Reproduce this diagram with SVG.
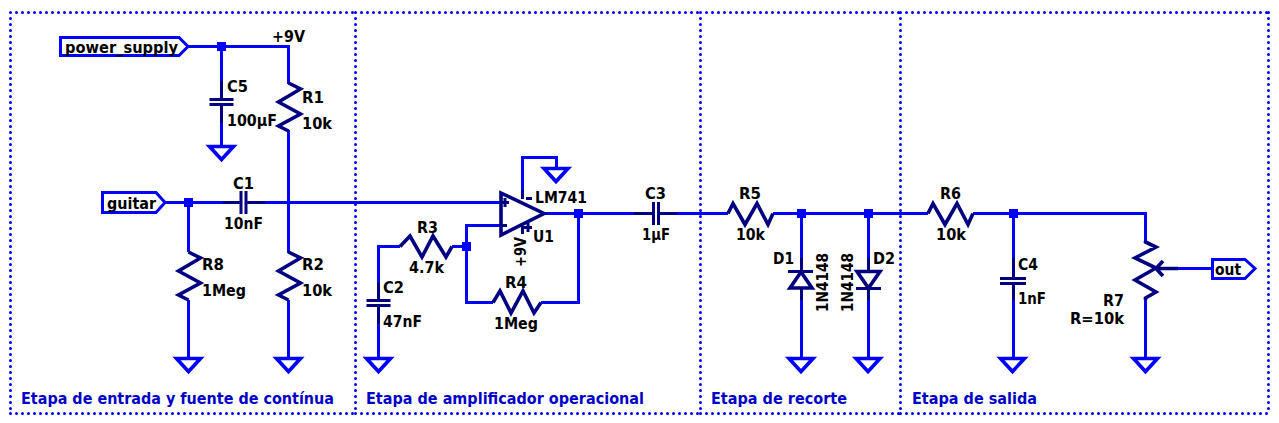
<svg xmlns="http://www.w3.org/2000/svg" width="1279" height="423" viewBox="0 0 1279 423">
<style>
text{font-family:"DejaVu Sans",Verdana,sans-serif;font-weight:bold;font-size:15.5px;fill:#000}
.s{fill:#0000c8}
path{fill:none;stroke-width:3;stroke-linejoin:miter}
.w{stroke:#0000ff}
.d{stroke:#000080}
.z{stroke-width:3.6}
.f{stroke:#0000ff;stroke-width:3;stroke-dasharray:0 6;stroke-linecap:round}
.j{fill:#0000ff;stroke:none}
</style>
<defs>
<path id="gnd" class="w z" d="M-12 0H12L0 13Z"/>
<path id="res" class="d z" d="M0 0L12 6L-10 19L12 31L-10 43L0 48"/>
<path id="resh" class="d z" d="M0 0L5 -10L17 11L29 -10L40 11L45 0"/>
<g id="capv"><path class="d" d="M0 0V18M0 24V42M-12 18.500H12M-12 23.500H12"/></g>
</defs>
<rect width="1279" height="423" fill="#fff"/>
<g id="frames">
<path class="f" d="M10.500 12.500H355M355.500 12.500H700M700.500 12.500H900M900.500 12.500H1268M10.500 413.500H355M355.500 413.500H700M700.500 413.500H900M900.500 413.500H1268M10.500 12.500V414M355.500 12.500V414M700.500 12.500V414M900.500 12.500V414M1268.500 12.500V414"/>
</g>
<g id="connectors">
<path class="w" d="M188 46.500H288.500V84M221.500 46V81M221.500 123V146M288.500 130V253M288.500 300V358"/>
<path class="w" d="M165 202.500H223M265 202.500H500M188.500 202V252M188.500 300V358"/>
<path class="w" d="M522.500 190V157.500H556.500V168"/>
<path class="w" d="M400 246.500H378.500V282M378.500 323V358M452 246.500H466.500M500 225.500H466.500V302.500H493M541 302.500H578.500V213"/>
<path class="w" d="M544 213.500H634M677 213.500H728M773 213.500H928M973 213.500H1145.500V241M801.500 213V258M801.500 300V358M868.500 213V258M868.500 300V358M1013.500 213V258M1013.500 300V358M1145.500 300V358M1178 268.500H1212"/>
</g>
<g id="power_supply"><path class="w" d="M60.500 37.500H179L188 46.500L179 55.500H60.500Z"/><text x="65" y="53" textLength="113" lengthAdjust="spacingAndGlyphs">power_supply</text></g>
<g id="guitar"><path class="w" d="M102.500 192.500H156L165 202.500L156 212.500H102.500Z"/><text x="107" y="209" textLength="49" lengthAdjust="spacingAndGlyphs">guitar</text></g>
<g id="out"><path class="w" d="M1212.500 259.500H1245L1255 268.500L1245 278.500H1212.500Z"/><text x="1215" y="275" textLength="26" lengthAdjust="spacingAndGlyphs">out</text></g>
<g id="net_9V"><text x="272" y="42" textLength="33" lengthAdjust="spacingAndGlyphs">+9V</text></g>
<g id="junctions">
<rect class="j" x="217" y="42" width="9" height="9"/><rect class="j" x="184" y="198" width="9" height="9"/><rect class="j" x="462" y="242" width="9" height="9"/><rect class="j" x="574" y="209" width="9" height="9"/><rect class="j" x="797" y="209" width="9" height="9"/><rect class="j" x="864" y="209" width="9" height="9"/><rect class="j" x="1009" y="209" width="9" height="9"/>
</g>
<g id="grounds">
<use href="#gnd" x="221.500" y="146.500"/><use href="#gnd" x="188.500" y="358.500"/><use href="#gnd" x="288.500" y="358.500"/><use href="#gnd" x="378.500" y="358.500"/><use href="#gnd" x="556" y="168.500"/><use href="#gnd" x="801" y="358.500"/><use href="#gnd" x="868" y="358.500"/><use href="#gnd" x="1012.500" y="358.500"/><use href="#gnd" x="1145.500" y="358.500"/>
</g>
<g id="C5"><use href="#capv" x="221.500" y="81"/><text x="227" y="92" textLength="21" lengthAdjust="spacingAndGlyphs">C5</text><text x="227" y="126" textLength="50" lengthAdjust="spacingAndGlyphs">100µF</text></g>
<g id="R1"><use href="#res" x="288.500" y="83"/><text x="302" y="103" textLength="22" lengthAdjust="spacingAndGlyphs">R1</text><text x="302" y="129" textLength="30" lengthAdjust="spacingAndGlyphs">10k</text></g>
<g id="C1"><path class="d" d="M223 202.500H241M247 202.500H265M241 191V214M246 191V214"/><text x="233" y="189" textLength="21" lengthAdjust="spacingAndGlyphs">C1</text><text x="224" y="229" textLength="39" lengthAdjust="spacingAndGlyphs">10nF</text></g>
<g id="R8"><use href="#res" x="188.500" y="252"/><text x="202" y="270" textLength="22" lengthAdjust="spacingAndGlyphs">R8</text><text x="202" y="296" textLength="44" lengthAdjust="spacingAndGlyphs">1Meg</text></g>
<g id="R2"><use href="#res" x="288.500" y="252"/><text x="302" y="270" textLength="22" lengthAdjust="spacingAndGlyphs">R2</text><text x="302" y="296" textLength="30" lengthAdjust="spacingAndGlyphs">10k</text></g>
<g id="R3"><path class="d z" d="M400 246.500L410 236L422 257L433 236L446 257L452 246.500"/><text x="417" y="233" textLength="21" lengthAdjust="spacingAndGlyphs">R3</text><text x="409" y="273" textLength="35" lengthAdjust="spacingAndGlyphs">4.7k</text></g>
<g id="C2"><use href="#capv" x="378.500" y="282"/><text x="383" y="293" textLength="21" lengthAdjust="spacingAndGlyphs">C2</text><text x="383" y="327" textLength="39" lengthAdjust="spacingAndGlyphs">47nF</text></g>
<g id="R4"><path class="d z" d="M493 302.500L500 291L511 313L523 291L534 313L541 302.500"/><text x="505" y="288" textLength="22" lengthAdjust="spacingAndGlyphs">R4</text><text x="494" y="329" textLength="44" lengthAdjust="spacingAndGlyphs">1Meg</text></g>
<g id="U1">
<path class="d z" d="M501 193L544 213.500L501 235Z"/>
<path class="d" d="M500 202.500H509M505 198V207M500 225.500H507M522.500 190V199M526 198.500H532M522.500 226V234M524 227.500H532M528 223V232"/>
<text x="535" y="203" textLength="52" lengthAdjust="spacingAndGlyphs">LM741</text><text x="533" y="242" textLength="21" lengthAdjust="spacingAndGlyphs">U1</text>
<text transform="translate(526 267) rotate(-90)" textLength="30" lengthAdjust="spacingAndGlyphs">+9V</text>
</g>
<g id="C3"><path class="d" d="M634 213.500H653M658 213.500H677M653.500 202V225M658.500 202V225"/><text x="645" y="199" textLength="21" lengthAdjust="spacingAndGlyphs">C3</text><text x="642" y="240" textLength="28" lengthAdjust="spacingAndGlyphs">1µF</text></g>
<g id="R5"><use href="#resh" x="728" y="213.500"/><text x="739" y="199" textLength="22" lengthAdjust="spacingAndGlyphs">R5</text><text x="736" y="240" textLength="29" lengthAdjust="spacingAndGlyphs">10k</text></g>
<g id="D1"><path class="d" d="M801.500 258V271M801.500 288V300M788 271.500H813"/><path class="d z" d="M801 272L790 288H812Z"/><text x="773" y="264" textLength="21" lengthAdjust="spacingAndGlyphs">D1</text><text transform="translate(828 312) rotate(-90)" textLength="59" lengthAdjust="spacingAndGlyphs">1N4148</text></g>
<g id="D2"><path class="d" d="M868.500 258V271M868.500 288V300M856 288.500H881"/><path class="d z" d="M857 271.500H880L868.500 288Z"/><text x="873" y="264" textLength="22" lengthAdjust="spacingAndGlyphs">D2</text><text transform="translate(853 312) rotate(-90)" textLength="59" lengthAdjust="spacingAndGlyphs">1N4148</text></g>
<g id="R6"><use href="#resh" x="928" y="213.500"/><text x="940" y="199" textLength="21" lengthAdjust="spacingAndGlyphs">R6</text><text x="936" y="240" textLength="30" lengthAdjust="spacingAndGlyphs">10k</text></g>
<g id="C4"><path class="d" d="M1013.500 258V277M1013.500 284V300M1000 278.500H1026M1000 283.500H1026"/><text x="1018" y="270" textLength="20" lengthAdjust="spacingAndGlyphs">C4</text><text x="1018" y="304" textLength="28" lengthAdjust="spacingAndGlyphs">1nF</text></g>
<g id="R7"><path class="d z" d="M1145.500 241V242L1156 247L1135 258L1156 268L1135 280L1156 292L1145.500 298V300M1157 268.500H1178M1163 261L1156 268.500L1163 276"/><text x="1103" y="306" textLength="21" lengthAdjust="spacingAndGlyphs">R7</text><text x="1070" y="324" textLength="54" lengthAdjust="spacingAndGlyphs">R=10k</text></g>
<g id="labels">
<text class="s" x="21" y="404" textLength="313" lengthAdjust="spacingAndGlyphs">Etapa de entrada y fuente de contínua</text>
<text class="s" x="366" y="404" textLength="278" lengthAdjust="spacingAndGlyphs">Etapa de amplificador operacional</text>
<text class="s" x="711" y="404" textLength="136" lengthAdjust="spacingAndGlyphs">Etapa de recorte</text>
<text class="s" x="912" y="404" textLength="125" lengthAdjust="spacingAndGlyphs">Etapa de salida</text>
</g>
</svg>
